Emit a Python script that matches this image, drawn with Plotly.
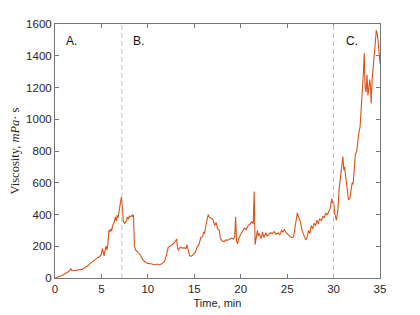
import plotly.graph_objects as go

time_min = [0.0, 0.3, 0.6, 0.9, 1.2, 1.5, 1.7, 1.8, 2.0, 2.3, 2.6, 2.8, 3.0, 3.2, 3.4, 3.6, 3.8, 4.0, 4.2, 4.4,
            4.6, 4.8, 5.0, 5.1, 5.2, 5.3, 5.4, 5.5, 5.6, 5.7, 5.8, 5.9, 6.0, 6.1, 6.2, 6.35, 6.5, 6.6, 6.7, 6.8,
            6.9, 7.0, 7.1, 7.15, 7.25, 7.35, 7.5, 7.65, 7.8, 7.9, 8.0, 8.15, 8.3, 8.4, 8.45, 8.55, 8.7, 8.85, 9.0, 9.2,
            9.4, 9.6, 9.8, 10.0, 10.3, 10.6, 10.8, 11.0, 11.2, 11.4, 11.6, 11.8, 12.0, 12.2, 12.4, 12.6, 12.8, 13.0, 13.1, 13.2,
            13.3, 13.5, 13.7, 13.9, 14.1, 14.2, 14.35, 14.5, 14.7, 14.9, 15.1, 15.3, 15.5, 15.7, 15.9, 16.0, 16.1, 16.2, 16.35, 16.5,
            16.6, 16.8, 17.0, 17.2, 17.35, 17.5, 17.7, 17.8, 18.0, 18.2, 18.4, 18.6, 18.8, 19.0, 19.2, 19.35, 19.45, 19.55, 19.65, 19.8,
            20.0, 20.2, 20.4, 20.6, 20.8, 21.0, 21.2, 21.35, 21.45, 21.55, 21.7, 21.8, 21.9, 22.0, 22.2, 22.35, 22.5, 22.7, 22.85, 23.0,
            23.2, 23.4, 23.6, 23.8, 24.0, 24.2, 24.4, 24.55, 24.7, 24.9, 25.1, 25.3, 25.5, 25.7, 25.85, 26.0, 26.1, 26.25, 26.4, 26.6,
            26.8, 27.0, 27.15, 27.3, 27.45, 27.6, 27.75, 27.9, 28.05, 28.2, 28.35, 28.5, 28.7, 28.85, 29.0, 29.15, 29.3, 29.5, 29.65, 29.8,
            29.9, 30.0, 30.15, 30.3, 30.45, 30.6, 30.75, 30.9, 31.0, 31.1, 31.2, 31.3, 31.45, 31.6, 31.75, 31.85, 32.0, 32.1, 32.2, 32.35,
            32.5, 32.6, 32.7, 32.85, 33.0, 33.1, 33.2, 33.3, 33.4, 33.5, 33.6, 33.7, 33.8, 33.9, 34.0, 34.05, 34.15, 34.3, 34.45, 34.6,
            34.7, 34.8, 34.9, 35.0]
viscosity = [0, 5, 12, 20, 30, 42, 58, 48, 46, 50, 52, 58, 56, 65, 72, 80, 92, 102, 112, 118,
             128, 135, 150, 185, 160, 140, 180, 200, 175, 215, 300, 290, 310, 295, 330, 345, 385, 360, 395, 380,
             420, 450, 480, 512, 450, 360, 345, 355, 385, 370, 390, 385, 395, 385, 398, 200, 175, 165, 158, 145,
             120, 105, 98, 92, 90, 85, 82, 88, 84, 86, 95, 105, 145, 195, 200, 210, 218, 235, 245, 190,
             175, 195, 188, 190, 185, 210, 170, 140, 138, 148, 160, 195, 210, 255, 260, 290, 280, 315, 370, 400,
             385, 375, 370, 330, 350, 310, 300, 250, 235, 230, 240, 238, 245, 250, 245, 260, 385, 235, 215, 250,
             275, 300, 315, 305, 330, 340, 355, 340, 545, 210, 260, 300, 265, 280, 248, 290, 255, 285, 265, 275,
             285, 280, 292, 275, 285, 270, 300, 290, 305, 285, 270, 262, 255, 260, 320, 390, 410, 380, 360, 300,
             270, 240, 255, 300, 280, 330, 310, 345, 330, 365, 340, 375, 360, 390, 380, 410, 395, 420, 440, 500,
             470, 480, 400, 365, 420, 560, 640, 720, 765, 680, 700, 640, 560, 495, 500, 540, 600, 590, 680, 780,
             800, 860, 910, 950, 1080, 1150, 1280, 1415, 1200, 1170, 1280, 1150, 1230, 1250, 1180, 1100, 1250, 1330, 1450, 1560,
             1540, 1490, 1380, 1350]

phase_x = [7.2, 30.0]
phase_labels = ["A.", "B.", "C."]
phase_label_x = [1.0, 8.2, 31.1]
phase_label_y = 1490

x_ticks = [0, 5, 10, 15, 20, 25, 30, 35]
y_ticks = [0, 200, 400, 600, 800, 1000, 1200, 1400, 1600]

fig = go.Figure()
fig.add_trace(go.Scatter(x=time_min, y=viscosity, mode="lines",
                         line=dict(color="#D95319", width=1.1), showlegend=False))

for xv in phase_x:
    fig.add_shape(type="line", x0=xv, x1=xv, y0=0, y1=1600, xref="x", yref="y",
                  line=dict(color="#bdbdbd", width=1, dash="5px,3px"))

for lab, lx in zip(phase_labels, phase_label_x):
    fig.add_annotation(x=lx, y=phase_label_y, text=lab, showarrow=False, xanchor="left", yanchor="middle",
                       font=dict(family="Liberation Sans, Arial", size=12, color="#111"))

axis_common = dict(showgrid=False, zeroline=False, showline=True, linecolor="#777", linewidth=1,
                   mirror="ticks", ticks="inside", ticklen=4, tickcolor="#777", automargin=False,
                   tickfont=dict(family="Liberation Sans, Arial", size=11.5, color="#262626"))

fig.update_xaxes(range=[0, 35], tickvals=x_ticks,
                 title=dict(text="Time, min", font=dict(family="Liberation Sans, Arial", size=11, color="#262626"),
                            standoff=5),
                 **axis_common)
fig.update_yaxes(range=[0, 1600], tickvals=y_ticks,
                 title=dict(text="Viscosity, <i>mPa</i>· s",
                            font=dict(family="Liberation Serif, DejaVu Serif", size=12.5, color="#262626"),
                            standoff=8),
                 **axis_common)

fig.update_layout(width=420, height=315, margin=dict(l=47, r=48, t=16, b=45),
                  paper_bgcolor="white", plot_bgcolor="white")

fig.write_html("out.html")
